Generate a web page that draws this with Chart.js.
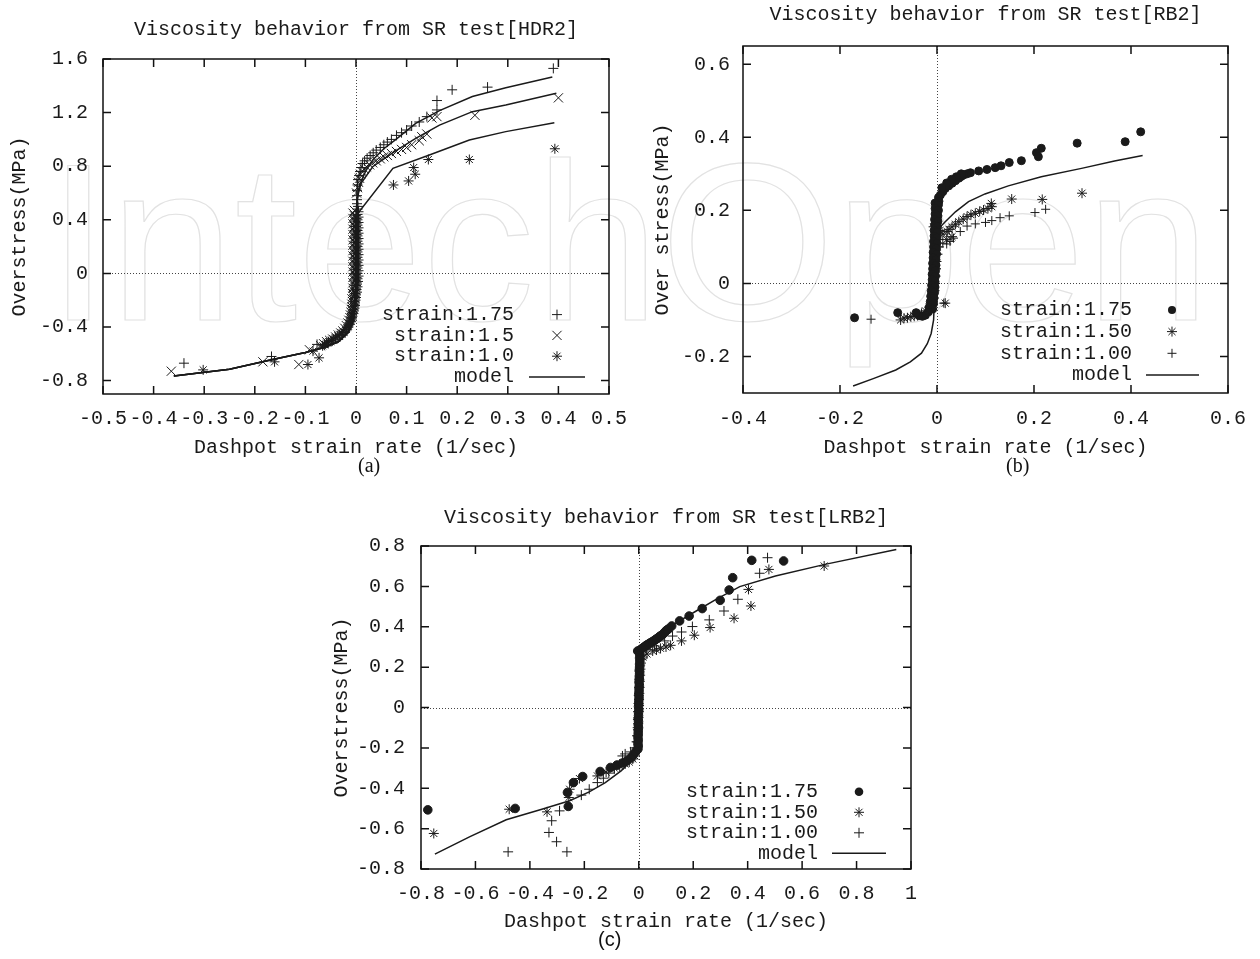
<!DOCTYPE html>
<html>
<head>
<meta charset="utf-8">
<script src="https://cdn.jsdelivr.net/npm/chart.js@4.4.1/dist/chart.umd.min.js"></script>
<style>
  html, body { margin: 0; padding: 0; background: #fff; }
  #page { position: relative; width: 1260px; height: 959px; overflow: hidden; }
  canvas { position: absolute; }
  #wm {
    position: absolute; left: 47px; top: 130px;
    font: 225px 'Liberation Sans', Arial, sans-serif; line-height: 1;
    color: transparent; -webkit-text-stroke: 1.2px #e2e2e2; white-space: nowrap;
  }
  .cap { position: absolute; font-size: 20px; color: #111; }
</style>
</head>
<body>
<div id="page">
  <div id="wm">IntechOpen</div>
  <canvas id="chartA" width="640" height="480" style="left:0;top:0"></canvas>
  <canvas id="chartB" width="620" height="480" style="left:640px;top:0"></canvas>
  <canvas id="chartC" width="620" height="459" style="left:320px;top:500px"></canvas>
  <div class="cap" style="left:358px;top:454px;font-family:'Liberation Serif',serif">(a)</div>
  <div class="cap" style="left:1006px;top:454px;font-family:'Liberation Serif',serif">(b)</div>
  <div class="cap" style="left:598px;top:928px;font-family:'Liberation Sans',sans-serif">(c)</div>
</div>
<script>
// ---- HDR2 ----
const hdrXTicks = [-0.5, -0.4, -0.3, -0.2, -0.1, 0, 0.1, 0.2, 0.3, 0.4, 0.5];
const hdrYTicks = [-0.8, -0.4, 0, 0.4, 0.8, 1.2, 1.6];
const hdr175 = [
  [0.39,1.53],[0.26,1.39],[0.19,1.37],[0.16,1.29],[0.16,1.22],[0.14,1.17],[0.125,1.13],[0.11,1.10],
  [0.10,1.07],[0.09,1.05],[0.08,1.03],[0.07,1.00],[0.062,0.98],[0.055,0.96],[0.048,0.94],[0.04,0.92],
  [0.034,0.90],[0.028,0.88],[0.022,0.86],[0.017,0.84],[0.013,0.82],[0.01,0.79],[0.008,0.76],[0.006,0.73],
  [0.004,0.70],[0.003,0.66],[0.002,0.62],[0.002,0.58],[0.002,0.55],
  [0.002,0.52],[0.004,0.50],[0.003,0.48],[0.005,0.46],[0.003,0.44],[0.005,0.42],[0.003,0.40],[0.005,0.38],
  [0.003,0.36],[0.005,0.34],[0.003,0.32],[0.005,0.30],[0.003,0.28],[0.005,0.26],[0.003,0.24],[0.005,0.22],
  [0.003,0.20],[0.005,0.18],[0.003,0.16],[0.005,0.14],[0.003,0.12],[0.005,0.10],[0.003,0.08],[0.005,0.06],
  [0.003,0.04],[0.005,0.02],[0.003,0.0],[0.005,-0.02],[0.003,-0.04],[0.004,-0.06],[0.002,-0.08],
  [0.003,-0.10],[0.001,-0.12],[0.002,-0.14],[0.0,-0.16],[0.0,-0.18],[-0.001,-0.20],[-0.002,-0.22],
  [-0.002,-0.24],[-0.003,-0.26],[-0.004,-0.28],[-0.005,-0.30],[-0.007,-0.32],[-0.008,-0.34],
  [-0.01,-0.36],[-0.012,-0.38],[-0.015,-0.40],[-0.018,-0.42],[-0.022,-0.44],[-0.027,-0.46],
  [-0.033,-0.475],[-0.04,-0.49],[-0.047,-0.505],[-0.055,-0.52],[-0.077,-0.53],[-0.167,-0.62],[-0.34,-0.67]
];
const hdr150 = [
  [0.40,1.31],[0.235,1.18],[0.16,1.17],[0.15,1.16],[0.14,1.04],[0.13,1.02],[0.125,0.99],[0.11,0.96],
  [0.10,0.94],[0.09,0.925],[0.08,0.91],[0.07,0.895],[0.062,0.88],[0.055,0.87],[0.048,0.855],[0.04,0.84],
  [0.033,0.825],[0.027,0.81],[0.021,0.795],[0.016,0.78],[0.012,0.76],[0.009,0.74],[0.007,0.71],
  [0.005,0.68],[0.003,0.64],[0.001,0.60],
  [-0.003,0.47],[-0.006,0.45],[-0.003,0.43],[-0.006,0.41],[-0.003,0.39],[-0.006,0.37],[-0.003,0.35],
  [-0.006,0.33],[-0.003,0.31],[-0.006,0.29],[-0.003,0.27],[-0.006,0.25],[-0.003,0.23],[-0.006,0.21],
  [-0.003,0.19],[-0.006,0.17],[-0.003,0.15],[-0.006,0.13],[-0.003,0.11],[-0.006,0.09],[-0.003,0.07],
  [-0.006,0.05],[-0.003,0.03],[-0.006,0.01],[-0.003,-0.01],[-0.006,-0.03],[-0.003,-0.05],[-0.006,-0.07],
  [-0.004,-0.09],[-0.006,-0.11],[-0.005,-0.13],[-0.007,-0.15],[-0.006,-0.17],[-0.008,-0.19],
  [-0.007,-0.21],[-0.008,-0.23],[-0.008,-0.25],[-0.009,-0.27],[-0.01,-0.29],[-0.011,-0.31],
  [-0.012,-0.33],[-0.014,-0.35],[-0.016,-0.37],[-0.019,-0.39],[-0.022,-0.41],[-0.026,-0.43],
  [-0.03,-0.445],[-0.035,-0.46],[-0.04,-0.475],[-0.046,-0.49],[-0.052,-0.50],[-0.058,-0.51],
  [-0.064,-0.525],[-0.07,-0.54],[-0.092,-0.57],[-0.113,-0.68],[-0.184,-0.66],[-0.365,-0.73]
];
const hdr100 = [
  [0.393,0.93],[0.224,0.85],[0.143,0.85],[0.114,0.79],[0.117,0.74],[0.104,0.69],[0.074,0.66],
  [0.0,0.43],[0.001,0.41],[0.0,0.39],[0.001,0.37],[0.0,0.35],[0.001,0.33],[0.0,0.31],[0.001,0.29],
  [0.0,0.27],[0.001,0.25],[0.0,0.23],[0.001,0.21],[0.0,0.19],[0.001,0.17],[0.0,0.15],[0.001,0.13],
  [0.0,0.11],[0.001,0.09],[0.0,0.07],[0.001,0.05],[0.0,0.03],[0.001,0.01],[0.0,-0.01],[0.001,-0.03],
  [0.0,-0.05],[0.001,-0.07],[0.0,-0.09],[0.0,-0.11],[-0.001,-0.13],[-0.001,-0.15],[-0.002,-0.17],
  [-0.002,-0.19],[-0.003,-0.21],[-0.003,-0.23],[-0.004,-0.25],[-0.005,-0.27],[-0.006,-0.29],
  [-0.008,-0.31],[-0.009,-0.33],[-0.011,-0.35],[-0.013,-0.37],[-0.015,-0.39],[-0.018,-0.405],
  [-0.021,-0.42],[-0.025,-0.435],[-0.028,-0.445],[-0.032,-0.455],[-0.036,-0.465],[-0.041,-0.48],
  [-0.045,-0.49],[-0.049,-0.50],[-0.054,-0.51],[-0.058,-0.52],[-0.062,-0.53],[-0.066,-0.54],
  [-0.073,-0.63],[-0.085,-0.58],[-0.095,-0.68],[-0.161,-0.66],[-0.302,-0.72]
];
const hdrModel175 = [
  [-0.36,-0.765],[-0.25,-0.715],[-0.167,-0.645],[-0.1,-0.59],[-0.065,-0.555],[-0.035,-0.51],
  [-0.015,-0.44],[-0.005,-0.35],[-0.001,-0.2],[0,0.3],[0.002,0.55],[0.007,0.66],[0.02,0.77],
  [0.033,0.846],[0.055,0.93],[0.079,1.0],[0.118,1.12],[0.165,1.215],[0.23,1.32],[0.296,1.386],[0.388,1.465]
];
const hdrModel150 = [
  [-0.36,-0.765],[-0.25,-0.715],[-0.167,-0.645],[-0.1,-0.59],[-0.065,-0.555],[-0.035,-0.51],
  [-0.015,-0.44],[-0.005,-0.35],[-0.001,-0.2],[0,0.3],[0.001,0.5],[0.005,0.6],[0.01,0.672],
  [0.033,0.796],[0.076,0.908],[0.118,1.008],[0.165,1.107],[0.23,1.207],[0.296,1.257],[0.396,1.344]
];
const hdrModel100 = [
  [-0.36,-0.765],[-0.25,-0.715],[-0.167,-0.645],[-0.1,-0.59],[-0.065,-0.555],[-0.035,-0.51],
  [-0.015,-0.44],[-0.005,-0.35],[-0.001,-0.2],[0,0.3],[0,0.43],[0.073,0.784],[0.145,0.884],
  [0.224,0.996],[0.296,1.058],[0.392,1.125]
];

// ---- RB2 ----
const rbXTicks = [-0.4, -0.2, 0, 0.2, 0.4, 0.6];
const rbYTicks = [-0.2, 0, 0.2, 0.4, 0.6];
const rb175 = [
  [0.42,0.415],[0.388,0.388],[0.289,0.384],[0.215,0.37],[0.205,0.358],[0.209,0.347],[0.174,0.336],
  [0.149,0.331],[0.132,0.322],[0.12,0.317],[0.103,0.312],[0.086,0.308],[0.069,0.303],[0.062,0.30],
  [0.055,0.297],[0.05,0.293],[0.045,0.288],[0.038,0.281],[0.031,0.274],[0.024,0.267],[0.017,0.26],
  [0.012,0.251],[0.007,0.242],[0.05,0.300],[0.04,0.292],[0.03,0.285],[0.02,0.275],[0.01,0.262],
  [0.003,0.235],[0.004,0.225],[-0.004,0.22],[0.003,0.215],[-0.004,0.205],[0.003,0.20],[-0.004,0.19],
  [0.002,0.185],[-0.005,0.175],[0.002,0.17],[-0.005,0.16],[0.001,0.155],[-0.006,0.145],[0.001,0.14],
  [-0.006,0.13],[0.0,0.125],[-0.007,0.115],[0.0,0.11],[-0.007,0.10],[-0.001,0.095],[-0.008,0.085],
  [-0.001,0.08],[-0.008,0.07],[-0.002,0.065],[-0.009,0.055],[-0.002,0.05],[-0.009,0.04],[-0.003,0.035],
  [-0.01,0.025],[-0.003,0.02],[-0.01,0.01],[-0.004,0.005],[-0.011,-0.005],[-0.004,-0.01],
  [-0.012,-0.02],[-0.005,-0.025],[-0.013,-0.035],[-0.006,-0.04],[-0.014,-0.05],[-0.007,-0.055],
  [-0.016,-0.065],[-0.009,-0.07],[-0.018,-0.078],[-0.024,-0.087],[-0.03,-0.09],[-0.037,-0.088],
  [-0.043,-0.08],[-0.081,-0.08],[-0.17,-0.094]
];
const rb150 = [
  [0.299,0.247],[0.217,0.23],[0.154,0.231],[0.112,0.219],[0.113,0.21],[0.105,0.205],[0.096,0.201],
  [0.088,0.197],[0.079,0.192],[0.07,0.188],[0.062,0.183],[0.054,0.176],[0.045,0.169],[0.038,0.162],
  [0.031,0.155],[0.025,0.148],[0.021,0.142],[0.031,0.128],[0.02,0.12],[0.012,0.135],[0.006,0.145],
  [-0.007,0.155],[0.002,0.12],[0.0,0.1],[-0.001,0.08],[-0.002,0.06],[-0.003,0.04],[-0.004,0.02],
  [-0.005,0.0],[-0.006,-0.02],[-0.008,-0.04],[-0.01,-0.054],[0.017,-0.054],[-0.016,-0.065],
  [-0.024,-0.075],[-0.032,-0.082],[-0.04,-0.088],[-0.047,-0.09],[-0.054,-0.091],[-0.061,-0.094],
  [-0.068,-0.095],[-0.075,-0.1]
];
const rb100 = [
  [0.224,0.203],[0.202,0.194],[0.149,0.185],[0.13,0.18],[0.113,0.172],[0.1,0.167],[0.079,0.163],
  [0.062,0.157],[0.048,0.142],[0.034,0.124],[0.027,0.115],[0.02,0.108],[0.012,0.11],[0.005,0.1],
  [0.002,0.08],[0.0,0.06],[-0.001,0.04],[-0.002,0.02],[-0.003,0.0],[-0.004,-0.02],[-0.006,-0.04],
  [0.014,-0.054],[-0.009,-0.06],[-0.014,-0.07],[-0.136,-0.098]
];
const rbModel = [
  [-0.173,-0.281],[-0.13,-0.26],[-0.085,-0.237],[-0.055,-0.215],[-0.032,-0.191],[-0.02,-0.165],
  [-0.012,-0.137],[-0.007,-0.1],[-0.004,0.0],[0.0,0.1],[0.004,0.151],[0.017,0.169],[0.038,0.196],
  [0.065,0.224],[0.099,0.245],[0.147,0.267],[0.215,0.292],[0.298,0.315],[0.366,0.335],[0.424,0.35]
];

// ---- LRB2 ----
const lrbXTicks = [-0.8, -0.6, -0.4, -0.2, 0, 0.2, 0.4, 0.6, 0.8, 1];
const lrbYTicks = [-0.8, -0.6, -0.4, -0.2, 0, 0.2, 0.4, 0.6, 0.8];
const lrb175 = [
  [-0.775,-0.507],[-0.454,-0.5],[-0.259,-0.49],[-0.262,-0.421],[-0.24,-0.372],[-0.206,-0.342],
  [-0.142,-0.317],[-0.104,-0.297],[-0.08,-0.285],[-0.06,-0.275],[-0.045,-0.265],[-0.03,-0.25],
  [-0.02,-0.235],[-0.012,-0.22],
  [-0.003,-0.205],[-0.002,-0.19],[-0.003,-0.175],[-0.002,-0.16],[-0.003,-0.145],[-0.002,-0.13],
  [-0.002,-0.115],[-0.001,-0.10],[-0.002,-0.085],[-0.001,-0.07],[-0.002,-0.055],[-0.001,-0.04],
  [-0.001,-0.025],[0.0,-0.01],[-0.001,0.005],[0.0,0.02],[0.0,0.035],[0.001,0.05],[0.0,0.065],
  [0.001,0.08],[0.001,0.095],[0.002,0.11],[0.001,0.125],[0.002,0.14],[0.002,0.155],[0.003,0.17],
  [0.002,0.185],[0.003,0.20],[0.003,0.215],[0.004,0.23],[0.003,0.245],[0.004,0.26],[0.002,0.275],
  [-0.004,0.28],[0.005,0.285],[0.01,0.29],[0.015,0.295],[0.02,0.30],[0.025,0.305],[0.03,0.31],
  [0.035,0.313],[0.04,0.318],[0.045,0.322],[0.05,0.326],[0.055,0.33],[0.06,0.335],[0.065,0.34],
  [0.07,0.343],[0.075,0.35],[0.08,0.355],[0.085,0.358],[0.09,0.365],[0.095,0.372],[0.1,0.38],
  [0.105,0.385],[0.11,0.39],[0.121,0.404],[0.15,0.429],[0.185,0.453],[0.233,0.49],[0.299,0.531],
  [0.332,0.582],[0.345,0.643],[0.415,0.729],[0.532,0.726]
];
const lrb150 = [
  [-0.753,-0.624],[-0.476,-0.504],[-0.337,-0.517],[-0.257,-0.446],[-0.254,-0.405],[-0.218,-0.352],
  [-0.152,-0.339],[-0.12,-0.32],[-0.09,-0.3],[-0.07,-0.29],[-0.05,-0.28],[-0.035,-0.27],[-0.022,-0.255],
  [-0.014,-0.24],[-0.009,-0.22],[-0.006,-0.2],[-0.005,-0.17],[-0.004,-0.14],[-0.003,-0.11],
  [-0.002,-0.08],[-0.001,-0.05],[0,-0.02],[0.001,0.01],[0.001,0.04],[0.002,0.07],[0.003,0.1],
  [0.004,0.13],[0.005,0.16],[0.006,0.19],[0.008,0.22],[0.015,0.25],[0.03,0.265],[0.051,0.28],
  [0.065,0.285],[0.08,0.293],[0.1,0.3],[0.117,0.308],[0.157,0.33],[0.204,0.358],[0.262,0.396],
  [0.35,0.442],[0.412,0.503],[0.403,0.585],[0.478,0.684],[0.681,0.701]
];
const lrb100 = [
  [-0.48,-0.715],[-0.264,-0.715],[-0.302,-0.665],[-0.33,-0.619],[-0.32,-0.561],[-0.291,-0.512],
  [-0.211,-0.434],[-0.182,-0.405],[-0.152,-0.372],[-0.13,-0.35],[-0.11,-0.325],[-0.09,-0.305],
  [-0.07,-0.28],[-0.06,-0.24],[-0.05,-0.23],[-0.03,-0.22],[-0.015,-0.2],[-0.008,-0.17],[-0.006,-0.14],
  [-0.004,-0.1],[-0.003,-0.06],[-0.002,-0.02],[-0.001,0.02],[0,0.06],[0.001,0.1],[0.002,0.14],
  [0.003,0.18],[0.005,0.21],[0.01,0.24],[0.029,0.288],[0.058,0.305],[0.095,0.33],[0.124,0.354],
  [0.157,0.374],[0.197,0.401],[0.259,0.434],[0.313,0.478],[0.364,0.536],[0.444,0.665],[0.473,0.742]
];
const lrbModel = [
  [-0.749,-0.726],[-0.62,-0.64],[-0.487,-0.556],[-0.356,-0.504],[-0.254,-0.462],[-0.182,-0.418],
  [-0.123,-0.372],[-0.065,-0.314],[-0.021,-0.256],[-0.007,-0.19],[-0.002,0.0],[0.003,0.2],
  [0.008,0.297],[0.066,0.354],[0.139,0.42],[0.211,0.478],[0.284,0.536],[0.371,0.599],[0.502,0.651],
  [0.684,0.709],[0.946,0.783]
];

const MONO = "'Liberation Mono', 'Courier New', monospace";
const INK = '#1a1a1a';

function drawMarker(ctx, style, r, x, y) {
  ctx.beginPath();
  if (style === 'circle') {
    ctx.arc(x, y, r, 0, Math.PI * 2);
    ctx.fill();
    return;
  }
  const d = r * Math.SQRT1_2;
  if (style === 'cross' || style === 'star') {
    ctx.moveTo(x - r, y); ctx.lineTo(x + r, y);
    ctx.moveTo(x, y - r); ctx.lineTo(x, y + r);
  }
  if (style === 'crossRot' || style === 'star') {
    ctx.moveTo(x - d, y - d); ctx.lineTo(x + d, y + d);
    ctx.moveTo(x + d, y - d); ctx.lineTo(x - d, y + d);
  }
  ctx.stroke();
}

// gnuplot-like frame: dotted zero axes, boxed border, inward ticks, key in the corner
const gnuFrame = {
  id: 'gnuFrame',
  beforeDatasetsDraw(chart) {
    const { ctx, chartArea: a, scales: { x, y } } = chart;
    const x0 = Math.round(x.getPixelForValue(0)) + 0.5;
    const y0 = Math.round(y.getPixelForValue(0)) + 0.5;
    ctx.save();
    ctx.strokeStyle = '#444';
    ctx.lineWidth = 1;
    ctx.setLineDash([1, 2]);
    ctx.beginPath();
    ctx.moveTo(x0, a.top); ctx.lineTo(x0, a.bottom);
    ctx.moveTo(a.left, y0); ctx.lineTo(a.right, y0);
    ctx.stroke();
    ctx.restore();
  },
  afterDraw(chart, args, opts) {
    const { ctx, chartArea: a, scales: { x, y } } = chart;
    ctx.save();
    ctx.strokeStyle = '#111';
    ctx.lineWidth = 1.5;
    ctx.strokeRect(a.left, a.top, a.right - a.left, a.bottom - a.top);
    ctx.beginPath();
    x.ticks.forEach(t => {
      const px = x.getPixelForValue(t.value);
      ctx.moveTo(px, a.bottom); ctx.lineTo(px, a.bottom - 8);
      ctx.moveTo(px, a.top); ctx.lineTo(px, a.top + 8);
    });
    y.ticks.forEach(t => {
      const py = y.getPixelForValue(t.value);
      ctx.moveTo(a.left, py); ctx.lineTo(a.left + 8, py);
      ctx.moveTo(a.right, py); ctx.lineTo(a.right - 8, py);
    });
    ctx.stroke();

    const k = opts.key;
    ctx.font = '20px ' + MONO;
    ctx.fillStyle = INK;
    ctx.strokeStyle = INK;
    ctx.textAlign = 'right';
    ctx.textBaseline = 'middle';
    const n = opts.entries.length;
    opts.entries.forEach((e, i) => {
      const py = a.bottom - k.last - (n - 1 - i) * k.step;
      ctx.fillText(e.label, a.right - k.textRight, py);
      if (e.style === 'line') {
        ctx.lineWidth = 1.5;
        ctx.beginPath();
        ctx.moveTo(a.right - k.lineFrom, py); ctx.lineTo(a.right - k.lineTo, py);
        ctx.stroke();
      } else {
        ctx.lineWidth = 1;
        drawMarker(ctx, e.style, e.radius, a.right - k.symbolX, py);
      }
    });
    ctx.restore();
  }
};

function buildChart(id, spec) {
  const datasets = spec.series.map(s => ({
    label: s.label,
    data: s.data.map(([x, y]) => ({ x, y })),
    showLine: false,
    pointStyle: s.style,
    pointRadius: s.radius,
    pointBorderWidth: 1,
    pointBorderColor: INK,
    pointBackgroundColor: INK
  }));
  spec.models.forEach(m => datasets.push({
    label: 'model',
    data: m.map(([x, y]) => ({ x, y })),
    showLine: true,
    pointRadius: 0,
    borderColor: INK,
    borderWidth: 1.5,
    tension: 0
  }));
  const L = spec.layout;
  const font = { family: MONO, size: 20, weight: 'normal' };

  new Chart(document.getElementById(id), {
    type: 'scatter',
    data: { datasets },
    plugins: [gnuFrame],
    options: {
      responsive: false,
      animation: false,
      devicePixelRatio: 1,
      events: [],
      layout: { padding: { left: 0, top: 0, right: L.right, bottom: 0 } },
      plugins: {
        legend: { display: false },
        tooltip: { enabled: false },
        title: {
          display: true,
          text: spec.title,
          color: INK,
          font,
          fullSize: false,
          padding: { top: L.titleTop, bottom: L.titleBottom }
        },
        gnuFrame: {
          entries: spec.key,
          key: { textRight: L.keyText, symbolX: L.keySymbol, lineFrom: L.keyLineFrom, lineTo: L.keyLineTo, last: L.keyLast, step: L.keyStep }
        }
      },
      scales: {
        x: {
          type: 'linear',
          min: spec.xMin, max: spec.xMax,
          afterBuildTicks: s => { s.ticks = spec.xTicks.map(v => ({ value: v })); },
          afterFit: s => { s.height = L.xHeight; },
          grid: { display: false, drawTicks: false },
          border: { display: false },
          ticks: { autoSkip: false, maxRotation: 0, padding: L.xTickPad, color: INK, font, callback: v => String(v) },
          title: { display: true, text: 'Dashpot strain rate (1/sec)', color: INK, font, padding: { top: 0, bottom: L.xTitlePad } }
        },
        y: {
          type: 'linear',
          min: spec.yMin, max: spec.yMax,
          afterBuildTicks: s => { s.ticks = spec.yTicks.map(v => ({ value: v })); },
          afterFit: s => { s.width = L.yWidth; },
          grid: { display: false, drawTicks: false },
          border: { display: false },
          ticks: { autoSkip: false, padding: L.yTickPad, color: INK, font, callback: v => String(v) },
          title: { display: true, text: spec.yTitle, color: INK, font, padding: { top: L.yTitlePad, bottom: 0 } }
        }
      }
    }
  });
}

buildChart('chartA', {
  title: 'Viscosity behavior from SR test[HDR2]',
  yTitle: 'Overstress(MPa)',
  xMin: -0.5, xMax: 0.5, yMin: -0.9, yMax: 1.6,
  xTicks: hdrXTicks, yTicks: hdrYTicks,
  series: [
    { label: 'strain:1.75', data: hdr175, style: 'cross', radius: 5 },
    { label: 'strain:1.5', data: hdr150, style: 'crossRot', radius: 6.5 },
    { label: 'strain:1.0', data: hdr100, style: 'star', radius: 5 }
  ],
  models: [hdrModel175, hdrModel150, hdrModel100],
  key: [
    { label: 'strain:1.75', style: 'cross', radius: 5 },
    { label: 'strain:1.5', style: 'crossRot', radius: 6.5 },
    { label: 'strain:1.0', style: 'star', radius: 5 },
    { label: 'model', style: 'line' }
  ],
  layout: {
    right: 30, titleTop: 18, titleBottom: 17, xHeight: 86, yWidth: 103,
    xTickPad: 13, yTickPad: 15, xTitlePad: 20, yTitlePad: 8,
    keyText: 95, keySymbol: 52, keyLineFrom: 80, keyLineTo: 24, keyLast: 17, keyStep: 20.8
  }
});

buildChart('chartB', {
  title: 'Viscosity behavior from SR test[RB2]',
  yTitle: 'Over stress(MPa)',
  xMin: -0.4, xMax: 0.6, yMin: -0.3, yMax: 0.65,
  xTicks: rbXTicks, yTicks: rbYTicks,
  series: [
    { label: 'strain:1.75', data: rb175, style: 'circle', radius: 4 },
    { label: 'strain:1.50', data: rb150, style: 'star', radius: 5 },
    { label: 'strain:1.00', data: rb100, style: 'cross', radius: 4.5 }
  ],
  models: [rbModel],
  key: [
    { label: 'strain:1.75', style: 'circle', radius: 4 },
    { label: 'strain:1.50', style: 'star', radius: 5 },
    { label: 'strain:1.00', style: 'cross', radius: 4.5 },
    { label: 'model', style: 'line' }
  ],
  layout: {
    right: 29, titleTop: 3, titleBottom: 19, xHeight: 87, yWidth: 103,
    xTickPad: 14, yTickPad: 13, xTitlePad: 20, yTitlePad: 11,
    keyText: 96, keySymbol: 56, keyLineFrom: 82, keyLineTo: 29, keyLast: 18, keyStep: 21.7
  }
});

buildChart('chartC', {
  title: 'Viscosity behavior from SR test[LRB2]',
  yTitle: 'Overstress(MPa)',
  xMin: -0.8, xMax: 1.0, yMin: -0.8, yMax: 0.8,
  xTicks: lrbXTicks, yTicks: lrbYTicks,
  series: [
    { label: 'strain:1.75', data: lrb175, style: 'circle', radius: 4.3 },
    { label: 'strain:1.50', data: lrb150, style: 'star', radius: 5 },
    { label: 'strain:1.00', data: lrb100, style: 'cross', radius: 5 }
  ],
  models: [lrbModel],
  key: [
    { label: 'strain:1.75', style: 'circle', radius: 4.3 },
    { label: 'strain:1.50', style: 'star', radius: 5 },
    { label: 'strain:1.00', style: 'cross', radius: 5 },
    { label: 'model', style: 'line' }
  ],
  layout: {
    right: 29, titleTop: 6, titleBottom: 16, xHeight: 90, yWidth: 101,
    xTickPad: 13, yTickPad: 16, xTitlePad: 25, yTitlePad: 10,
    keyText: 93, keySymbol: 52, keyLineFrom: 79, keyLineTo: 25, keyLast: 15.7, keyStep: 20.5
  }
});
</script>
</body>
</html>
